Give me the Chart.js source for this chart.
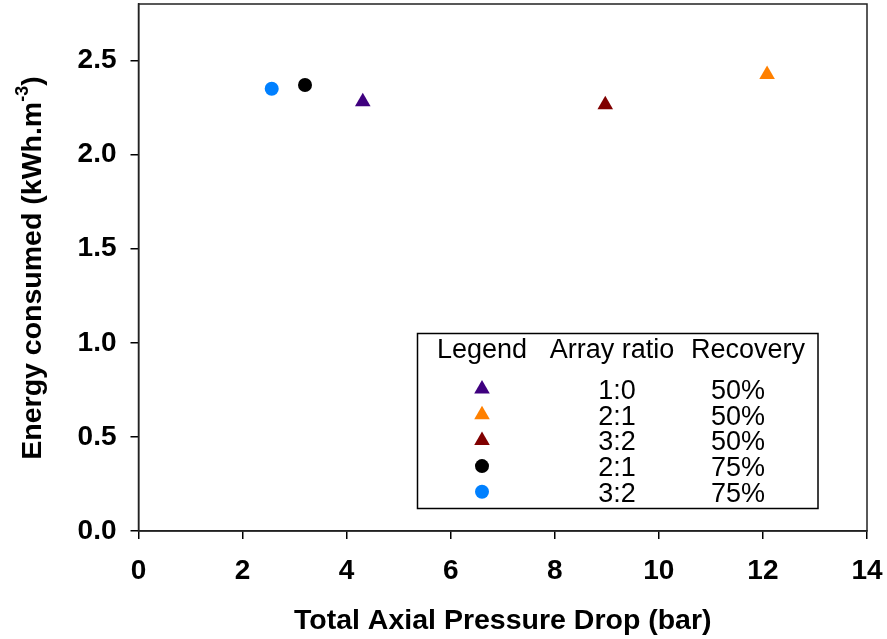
<!DOCTYPE html>
<html>
<head>
<meta charset="utf-8">
<script src="https://cdn.jsdelivr.net/npm/chart.js@4.4.0/dist/chart.umd.min.js"></script>
<style>
  html, body { margin: 0; padding: 0; background: #fff; }
  canvas { display: block; }
</style>
</head>
<body>
<canvas id="myChart" width="887" height="639"></canvas>
<script>
// data
const ratios = ['1:0', '2:1', '3:2', '2:1', '3:2']
const recoveries = ['50%', '50%', '50%', '75%', '75%']
const pressureDrop = [4.31, 12.08, 8.97, 3.20, 2.56]   // bar
const energy = [2.28, 2.425, 2.265, 2.37, 2.35]        // kWh.m-3
const xTicks = [0, 2, 4, 6, 8, 10, 12, 14]
const yTicks = [0.0, 0.5, 1.0, 1.5, 2.0, 2.5]

const colors = ['#3f007f', '#ff8000', '#800000', '#000000', '#0080ff']
const shapes = ['triangle', 'triangle', 'triangle', 'circle', 'circle']
const sizes = [9, 9, 9, 7, 7]

const FONT = '"Liberation Sans", Arial, sans-serif'

const datasets = pressureDrop.map((x, i) => ({
    label: ratios[i] + ' ' + recoveries[i],
    data: [{ x: x, y: energy[i] }],
    pointStyle: shapes[i],
    pointRadius: sizes[i],
    pointHoverRadius: sizes[i],
    backgroundColor: colors[i],
    borderColor: colors[i],
    borderWidth: 0,
    showLine: false
}))

// frame on top + right, y title with superscript, custom table legend
const extras = {
    id: 'extras',
    afterDraw: (chart) => {
        const { ctx, chartArea } = chart
        ctx.save()
        ctx.strokeStyle = '#222'
        ctx.lineWidth = 1.5
        ctx.strokeRect(chartArea.left, chartArea.top, chartArea.right - chartArea.left, chartArea.bottom - chartArea.top)

        // y axis title
        ctx.save()
        ctx.translate(41, 268)
        ctx.rotate(-Math.PI / 2)
        ctx.fillStyle = '#000'
        ctx.textBaseline = 'alphabetic'
        const big = 'bold 28.5px ' + FONT, small = 'bold 18px ' + FONT
        const t1 = 'Energy consumed (kWh.m', t2 = '-3', t3 = ')'
        ctx.font = big
        const w1 = ctx.measureText(t1).width, w3 = ctx.measureText(t3).width
        ctx.font = small
        const w2 = ctx.measureText(t2).width
        let x = -(w1 + w2 + w3) / 2
        ctx.font = big
        ctx.textAlign = 'left'
        ctx.fillText(t1, x, 0)
        x += w1
        ctx.font = small
        ctx.fillText(t2, x, -13)
        x += w2
        ctx.font = big
        ctx.fillText(t3, x, 0)
        ctx.restore()

        // legend table
        ctx.lineWidth = 1.5
        ctx.strokeStyle = '#000'
        ctx.strokeRect(417.5, 333.5, 400.5, 175)
        ctx.fillStyle = '#000'
        ctx.font = '27px ' + FONT
        ctx.textAlign = 'center'
        ctx.textBaseline = 'alphabetic'
        ctx.fillText('Legend', 482, 358)
        ctx.fillText('Array ratio', 612, 358)
        ctx.fillText('Recovery', 748, 358)
        ratios.forEach((r, i) => {
            const cy = 389 + i * 25.7
            ctx.fillStyle = colors[i]
            ctx.strokeStyle = colors[i]
            Chart.helpers.drawPoint(ctx, { pointStyle: shapes[i], radius: sizes[i], rotation: 0, borderWidth: 0 }, 482, cy)
            ctx.fillStyle = '#000'
            ctx.fillText(r, 617, cy + 10)
            ctx.fillText(recoveries[i], 738, cy + 10)
        })
        ctx.restore()
    }
}

const config = {
    type: 'scatter',
    data: { datasets },
    plugins: [extras],
    options: {
        responsive: false,
        animation: false,
        layout: { autoPadding: false, padding: { top: 4, right: 20, left: 0, bottom: 0 } },
        plugins: {
            legend: { display: false },
            tooltip: { enabled: false }
        },
        scales: {
            x: {
                type: 'linear',
                min: 0,
                max: 14,
                afterFit: (scale) => {
                    scale.height = 108
                    scale.paddingLeft = 0
                    scale.paddingRight = 0
                },
                afterBuildTicks: (scale) => { scale.ticks = xTicks.map(v => ({ value: v })) },
                ticks: {
                    color: '#000',
                    font: { family: FONT, size: 28, weight: 'bold' },
                    padding: 15,
                    maxRotation: 0
                },
                grid: { drawOnChartArea: false, drawTicks: true, tickLength: 8, color: '#000', lineWidth: 1.5 },
                border: { color: '#222', width: 1.5 },
                title: {
                    display: true,
                    text: 'Total Axial Pressure Drop (bar)',
                    color: '#000',
                    font: { family: FONT, size: 28.5, weight: 'bold' },
                    padding: { top: 0, bottom: 1 }
                }
            },
            y: {
                min: 0,
                max: 2.8,
                afterFit: (scale) => {
                    scale.width = 138.5
                    scale.paddingTop = 0
                    scale.paddingBottom = 0
                },
                afterBuildTicks: (scale) => { scale.ticks = yTicks.map(v => ({ value: v })) },
                ticks: {
                    color: '#000',
                    font: { family: FONT, size: 28, weight: 'bold' },
                    padding: 14,
                    callback: (v) => v.toFixed(1)
                },
                grid: { drawOnChartArea: false, drawTicks: true, tickLength: 8, color: '#000', lineWidth: 1.5 },
                border: { color: '#222', width: 1.5 }
            }
        }
    }
}

const myChart = new Chart(document.querySelector('#myChart').getContext('2d'), config)
</script>
</body>
</html>
